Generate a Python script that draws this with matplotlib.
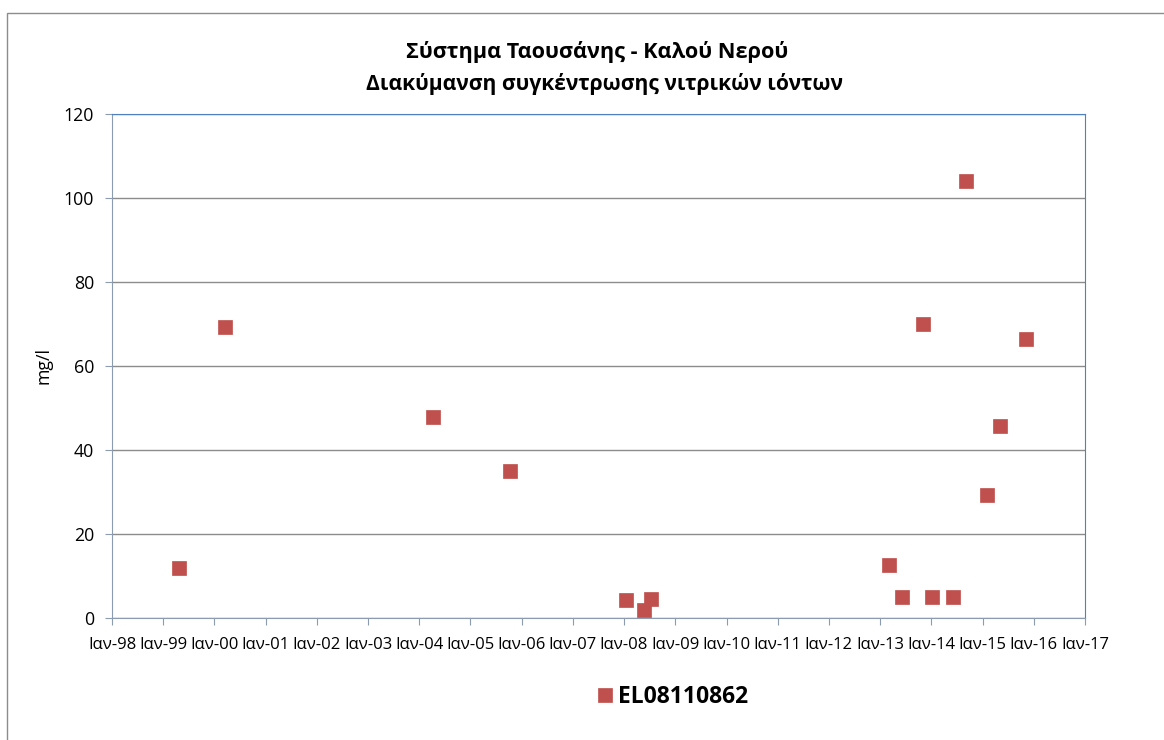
import matplotlib
matplotlib.use("Agg")
import matplotlib.pyplot as plt
import matplotlib.dates as mdates
from matplotlib.patches import Rectangle
import datetime as dt

plt.rcParams['font.family'] = ['Open Sans', 'DejaVu Sans']

title_lines = ["Σύστημα Ταουσάνης - Καλού Νερού",
               "Διακύμανση συγκέντρωσης νιτρικών ιόντων"]
series_name = "EL08110862"
ylabel = "mg/l"

dates = ["1999-04-23", "2000-03-18", "2004-04-09", "2005-10-08",
         "2008-01-15", "2008-05-19", "2008-07-12",
         "2013-03-07", "2013-06-06", "2013-11-06", "2014-01-08",
         "2014-06-06", "2014-09-05", "2015-02-02", "2015-05-04", "2015-11-06"]
values = [11.8, 69.4, 47.9, 35.0,
          4.2, 1.8, 4.5,
          12.6, 4.9, 70.1, 4.9,
          4.9, 104.0, 29.3, 45.8, 66.4]

years = list(range(1998, 2018))
month_abbr = "Ιαν"
tick_labels = [f"{month_abbr}-{y % 100:02d}" for y in years]
yticks = [0, 20, 40, 60, 80, 100, 120]

W, H = 1164, 740
fig = plt.figure(figsize=(W / 100, H / 100), dpi=100)

# outer chart border (left/top visible, rest outside the image)
fig.patches.append(Rectangle((7 / W, -0.05), 1.1, 1 - 13 / H + 0.05,
                             transform=fig.transFigure, fill=False,
                             edgecolor="#8c8c8c", linewidth=1.0))

ax = fig.add_axes([112 / W, 1 - 618 / H, (1085 - 112) / W, (618 - 114) / H])

x = [dt.datetime.strptime(d, "%Y-%m-%d") for d in dates]
ax.plot(x, values, linestyle="none", marker="s", markersize=10.2,
        color="#C0504D", markeredgecolor="#C0504D", markeredgewidth=0.5,
        label=series_name, zorder=3)

xt = [dt.datetime(y, 1, 1) for y in years]
ax.set_xlim(xt[0], xt[-1])
ax.set_xticks(xt)
ax.set_xticklabels(tick_labels, fontsize=12.0)
ax.set_ylim(0, 120)
ax.set_yticks(yticks)
ax.set_yticklabels([str(v) for v in yticks], fontsize=12.8)

ax.yaxis.grid(True, color="#8c8c8c", linewidth=1.0)
ax.set_axisbelow(True)

for s in ["top", "right"]:
    ax.spines[s].set_color("#4F81BD")
for s in ["left", "bottom"]:
    ax.spines[s].set_color("#8c9bb0")
ax.tick_params(axis="both", direction="out", length=5, color="#8c9bb0")
ax.tick_params(axis="y", pad=8)
ax.tick_params(axis="x", pad=9)

ax.set_ylabel(ylabel, fontsize=12.8, labelpad=8)

fig.text(597 / W, 1 - 52 / H, title_lines[0], ha="center", va="center",
         fontsize=15.6, fontweight="bold")
fig.text(604 / W, 1 - 84 / H, title_lines[1], ha="center", va="center",
         fontsize=15.1, fontweight="bold")

leg = fig.legend(loc="center", bbox_to_anchor=(672 / W, 1 - 697 / H),
                 frameon=False, handletextpad=0.15, markerscale=1.0,
                 prop={"size": 16.5, "weight": "bold"}, handlelength=0.8)

fig.savefig("out.png", dpi=100)
